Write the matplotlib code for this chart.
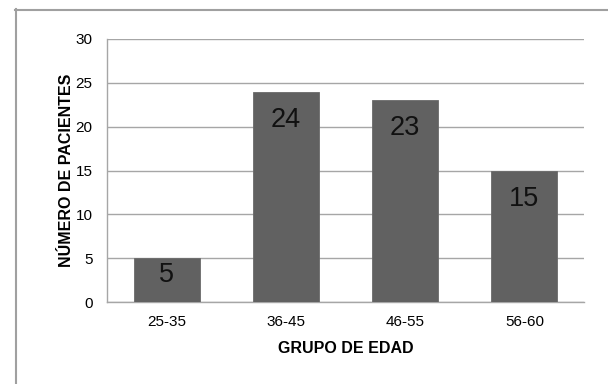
import matplotlib
matplotlib.use("Agg")
import matplotlib.pyplot as plt
from matplotlib.lines import Line2D

# Patients per age group
grupos = ["25-35", "36-45", "46-55", "56-60"]
pacientes = [5, 24, 23, 15]
y_ticks = [0, 5, 10, 15, 20, 25, 30]

plt.rcParams["font.family"] = ["Liberation Sans", "DejaVu Sans"]

W, H = 608, 384
fig = plt.figure(figsize=(W / 100, H / 100), dpi=100)
fig.patch.set_facecolor("white")

ax = fig.add_axes([107 / W, 1 - 302 / H, (584 - 107) / W, (302 - 39) / H])

grid_c = "#a6a6a6"
bar_c = "#616161"

x = list(range(len(grupos)))
ax.bar(x, pacientes, width=0.553, color=bar_c, edgecolor="#6a6a6a", linewidth=0.6, zorder=3)

ax.set_xlim(-0.5, len(grupos) - 0.5)
ax.set_ylim(0, 30)
ax.set_yticks(y_ticks)
ax.set_xticks(x)
ax.set_xticklabels(grupos)
ax.yaxis.grid(True, color=grid_c, linewidth=1.0, zorder=0)
ax.set_axisbelow(True)

for s in ["top", "right"]:
    ax.spines[s].set_visible(False)
for s in ["left", "bottom"]:
    ax.spines[s].set_color(grid_c)
    ax.spines[s].set_linewidth(1.0)

ax.tick_params(axis="both", length=0, labelsize=11, colors="#000000")
ax.tick_params(axis="y", pad=10.5)
ax.tick_params(axis="x", pad=9)

ax.set_ylabel("NÚMERO DE PACIENTES", fontsize=11.5, fontweight="bold", labelpad=1)
ax.set_xlabel("GRUPO DE EDAD", fontsize=11.5, fontweight="bold", labelpad=9)

# Value labels inside the top of each bar
for xi, v in zip(x, pacientes):
    ax.text(xi, v - min(3.2, 0.38 * v), str(v), ha="center", va="center",
            fontsize=19.5, color="#111111", zorder=4)

# Chart frame
fig.add_artist(Line2D([15.5 / W, 15.5 / W], [0, 1 - 9 / H], transform=fig.transFigure,
                      color="#a0a0a0", linewidth=1.5))
fig.add_artist(Line2D([15 / W, 1], [1 - 9.5 / H, 1 - 9.5 / H], transform=fig.transFigure,
                      color="#a0a0a0", linewidth=1.5))

fig.savefig("out.png", dpi=100, facecolor="white")
